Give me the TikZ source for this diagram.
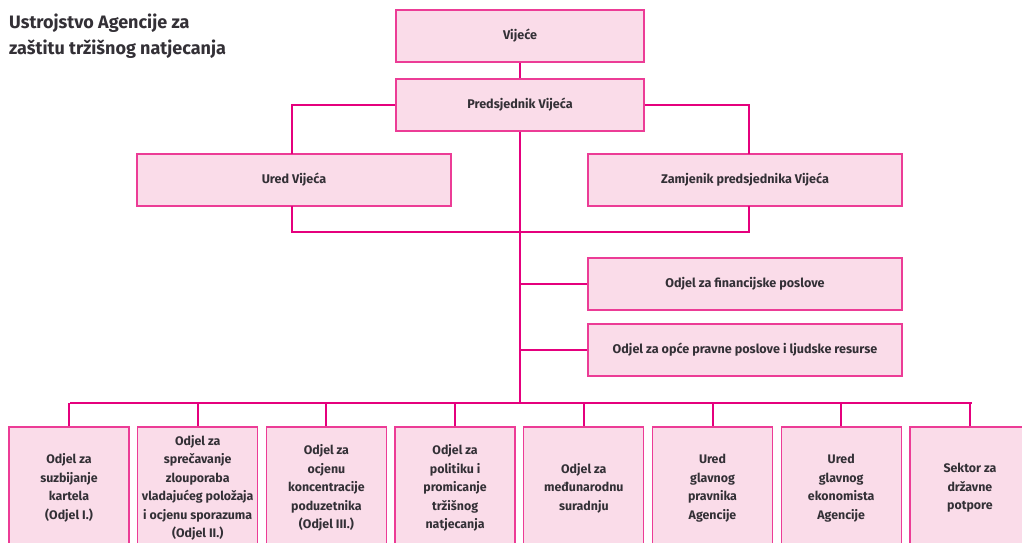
\documentclass[tikz,border=0pt]{standalone}
\usepackage{fontspec}
\setmainfont{Fira Sans}
\definecolor{mag}{HTML}{E5007D}
\definecolor{boxline}{HTML}{EC3C96}
\definecolor{boxfill}{HTML}{FADCE9}
\definecolor{txt}{HTML}{333036}
\begin{document}
\begin{tikzpicture}[x=1pt,y=-1pt,
  orgbox/.style={draw=boxline, line width=1.3pt, fill=boxfill, rectangle, inner sep=1pt,
    text=txt, font=\fontsize{12.6}{18}\selectfont\bfseries, align=center},
  topbox/.style={orgbox, minimum width=248pt, minimum height=52pt},
  midbox/.style={orgbox, minimum width=314pt, minimum height=52pt},
  lowbox/.style={orgbox, minimum width=120pt, minimum height=122pt,
    font=\fontsize{12.4}{18.5}\selectfont\bfseries},
  conn/.style={draw=mag, line width=2pt}]
\useasboundingbox (0,0) rectangle (1022,543);
\clip (0,0) rectangle (1022,543);
\fill[white] (0,0) rectangle (1022,543);

\node[anchor=north west, text=txt, align=left, inner sep=0pt,
  font=\fontsize{18}{26}\selectfont\bfseries] (title) at (9,14)
  {Ustrojstvo Agencije za\\zaštitu tržišnog natjecanja};

\coordinate (busL) at (70,403);
\coordinate (busR) at (972,403);
\coordinate (busC) at (520,403);
\coordinate (barL) at (292,232);
\coordinate (barR) at (749,232);

\node[topbox] (vij) at (520,36) {Vijeće};
\node[topbox] (pred) at (520,105) {Predsjednik Vijeća};
\node[midbox] (ured) at (294,180) {Ured Vijeća};
\node[midbox] (zam) at (745,180) {Zamjenik predsjednika Vijeća};
\node[midbox] (fin) at (745,284) {Odjel za financijske poslove};
\node[midbox] (opc) at (745,350) {Odjel za opće pravne poslove i ljudske resurse};

\foreach \i/\t in {
  0/{Odjel za\\suzbijanje\\kartela\\(Odjel I.)},
  1/{Odjel za\\sprečavanje\\zlouporaba\\vladajućeg položaja\\i ocjenu sporazuma\\(Odjel II.)},
  2/{Odjel za\\ocjenu\\koncentracije\\poduzetnika\\(Odjel III.)},
  3/{Odjel za\\politiku i\\promicanje\\tržišnog\\natjecanja},
  4/{Odjel za\\međunarodnu\\suradnju},
  5/{Ured\\glavnog\\pravnika\\Agencije},
  6/{Ured\\glavnog\\ekonomista\\Agencije},
  7/{Sektor za\\državne\\potpore}}
  {\node[lowbox] (b\i) at ({69+128.7*\i},488) {\t};}

\draw[conn] (vij.south) -- (pred.north);
\draw[conn] (pred.west) -| (292,154);
\draw[conn] (pred.east) -| (749,154);
\draw[conn] (292,206) -- (barL) -- (barR) -- (749,206);
\draw[conn] (pred.south) -- (busC);
\draw[conn] (520,284) -- (fin.west);
\draw[conn] (520,350) -- (opc.west);
\draw[conn] (busL) -- (busR);
\foreach \i in {0,...,7} {\draw[conn] ({69+128.7*\i},403) -- (b\i.north);}
\end{tikzpicture}
\end{document}
